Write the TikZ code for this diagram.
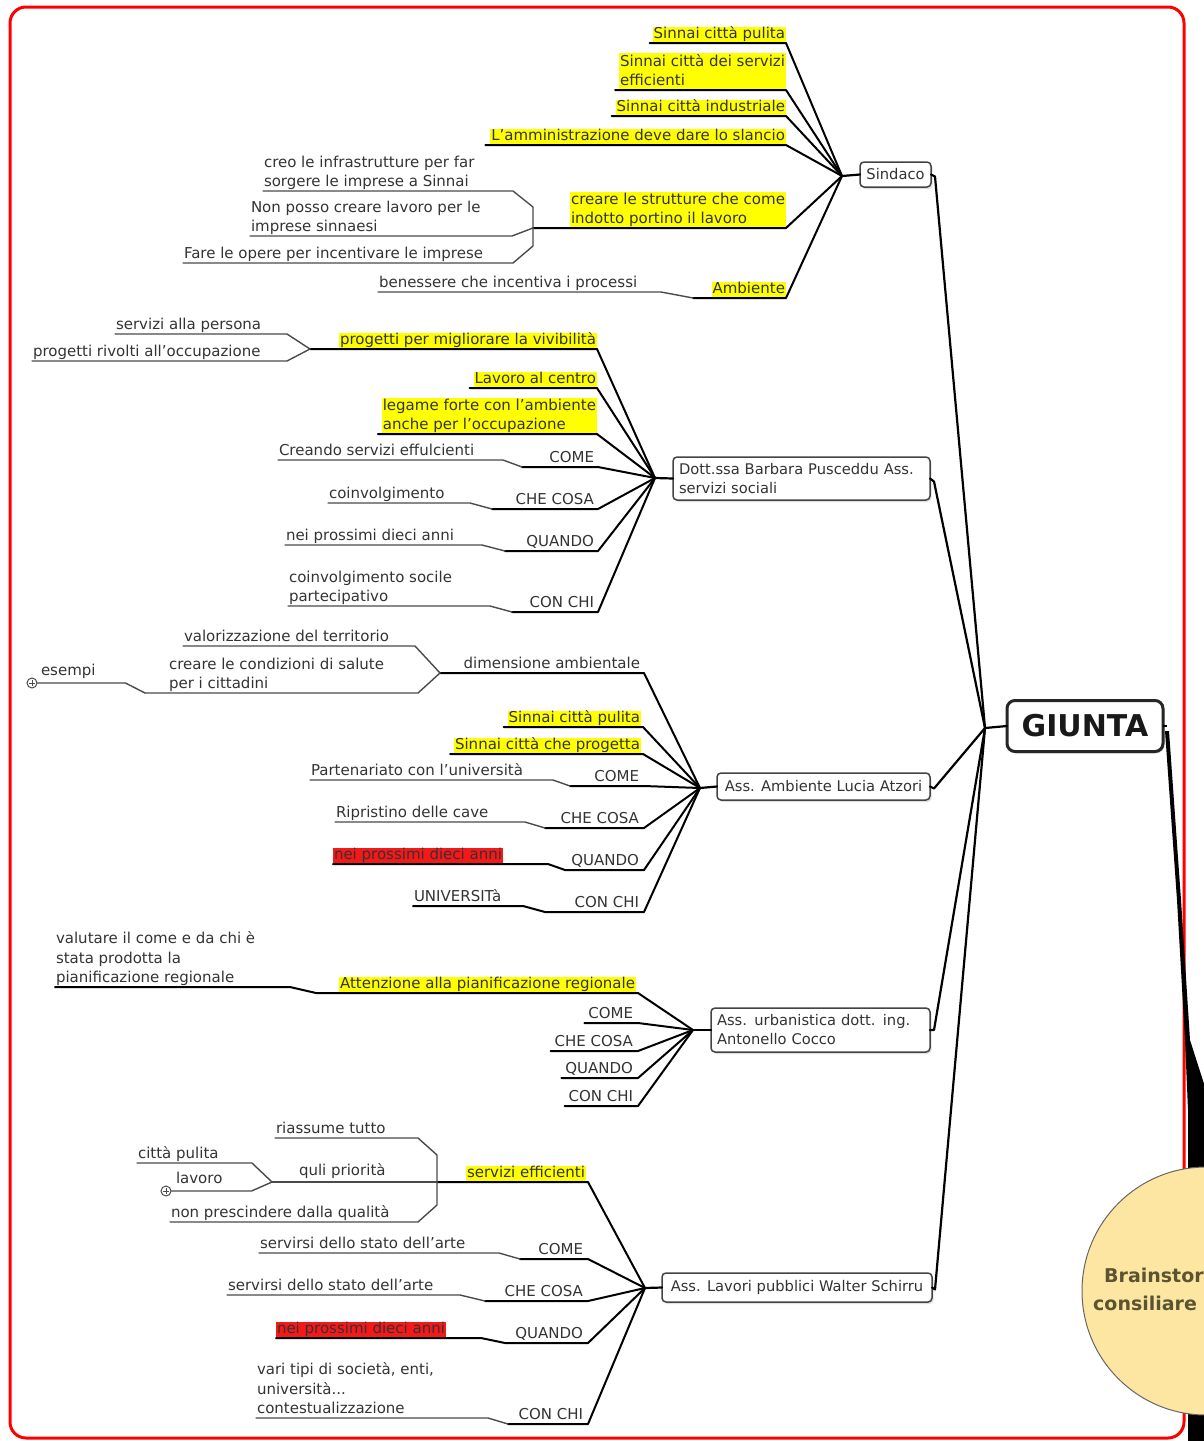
\documentclass[tikz,border=0pt]{standalone}
\usepackage{fontspec}
\setmainfont{DejaVu Sans}
\usetikzlibrary{shadows,calc}
\newcommand\leaffont{\fontsize{15}{19.5}\selectfont}
\newcommand\boxfont{\fontsize{14.7}{19}\selectfont}
\newcommand\giuntafont{\fontsize{30}{34}\selectfont\bfseries}
\newcommand\ballfont{\fontsize{19}{23}\selectfont\bfseries}
\definecolor{hly}{HTML}{FFFF00}
\definecolor{hlr}{HTML}{F41818}
\definecolor{txtc}{HTML}{333333}
\definecolor{lgc}{HTML}{4A4A4A}
\definecolor{boxc}{HTML}{444444}
\definecolor{ballc}{HTML}{FDE6A2}
\definecolor{ballt}{HTML}{5A5430}
\definecolor{frame}{HTML}{FF0000}
\begin{document}
\begin{tikzpicture}[x=1pt,y=-1pt,
  txt/.style={font=\leaffont, text=txtc, inner sep=1pt, outer sep=0pt, text depth=3.5pt},
  one/.style={text height=11pt},
  hl/.style={txt, fill=hly},
  hr/.style={txt, fill=hlr},
  ml/.style={align=left},
  boxn/.style={draw=boxc, line width=1.5pt, rounded corners=4pt, fill=white, font=\boxfont,
    text=txtc, inner xsep=6pt, inner ysep=3pt, outer sep=0pt,
    drop shadow={opacity=0.25, shadow xshift=1.5pt, shadow yshift=-2pt}},
  lk/.style={draw=black, line width=2pt, line join=round, line cap=round},
  lg/.style={draw=lgc, line width=1.4pt, line join=round, line cap=round},
  lm/.style={draw=black, line width=2.2pt, line join=round, line cap=round},
  plusn/.style={circle, draw=lgc, line width=1pt, minimum size=10pt, inner sep=0pt, fill=white,
    path picture={\draw[line width=0.9pt]
      ([yshift=-2.6pt]path picture bounding box.center) -- ([yshift=2.6pt]path picture bounding box.center)
      ([xshift=-2.6pt]path picture bounding box.center) -- ([xshift=2.6pt]path picture bounding box.center);}}
]
\useasboundingbox (0,0) rectangle (1204,1441);
\clip (0,0) rectangle (1204,1441);

% outer frame
\draw[draw=frame, line width=3pt, rounded corners=16pt] (10,7) rectangle (1184,1438);

% heavy tapered link from GIUNTA down to the brainstorming ball
\fill[black] (1165,731) -- (1169,731) -- (1181,900) -- (1190,1040) -- (1206,1090) -- (1215,1090) -- (1215,1441)
  -- (1188,1441) -- (1188,1110) -- (1185,1040) -- (1177,900) -- cycle;
\node[circle, fill=ballc, draw=black!60, line width=1pt, minimum size=248pt, inner sep=0pt] (ball) at (1206,1291) {};
\node[font=\ballfont, text=ballt, anchor=west, inner sep=0pt] (bt1) at (1104,1277) {Brainstorming};
\node[font=\ballfont, text=ballt, anchor=west, inner sep=0pt] (bt2) at (1093,1303) {consiliare};

% central node
\node[boxn, line width=3pt, rounded corners=8pt, draw=black!85, font=\giuntafont, text=black!90,
  minimum width=156pt, minimum height=51pt] (giunta) at (1085,726) {GIUNTA};
\coordinate (hG) at (985,728);
\draw[lm] (hG) -- (giunta.west);
\draw[draw=black, line width=1.5pt] (giunta.east) -- ++(4,0);

% ---------------- Sindaco ----------------
\node[boxn, minimum width=71pt, minimum height=25pt] (sind) at (895.5,174.5) {Sindaco};
\coordinate (hS) at (842,176);
\draw[lm] (hS) -- (sind.west);
\draw[lm] (sind.east) -- ++(4,2) -- (hG);

\node[hl, one, anchor=south east] (s1) at (786,43) {Sinnai città pulita};
\node[hl, ml, anchor=south east] (s2) at (786,90) {Sinnai città dei servizi\\efficienti};
\node[hl, one, anchor=south east] (s3) at (786,116) {Sinnai città industriale};
\node[hl, one, anchor=south east] (s4) at (786,145) {L'amministrazione deve dare lo slancio};
\node[hl, ml, anchor=south east] (s5) at (786,228) {creare le strutture che come\\indotto portino il lavoro};
\node[hl, one, anchor=south east] (s6) at (786,298) {Ambiente};
\coordinate (k5) at (533,228);
\coordinate (k6) at (693,298);
\draw[lk] ([xshift=-3pt]s1.south west) -- (s1.south east) -- (hS);
\draw[lk] ([xshift=-4pt]s2.south west) -- (s2.south east) -- (hS);
\draw[lk] ([xshift=-4pt]s3.south west) -- (s3.south east) -- (hS);
\draw[lk] ([xshift=-5pt]s4.south west) -- (s4.south east) -- (hS);
\draw[lk] (k5) -- (s5.south east) -- (hS);
\draw[lk] (k6) -- (s6.south east) -- (hS);

\node[txt, ml, anchor=south west] (c51) at (263,191) {creo le infrastrutture per far\\sorgere le imprese a Sinnai};
\node[txt, ml, anchor=south west] (c52) at (250,236) {Non posso creare lavoro per le\\imprese sinnaesi};
\node[txt, one, anchor=south west] (c53) at (183,263) {Fare le opere per incentivare le imprese};
\node[txt, one, anchor=south west] (c61) at (378,292) {benessere che incentiva i processi};
\draw[lg] (c51.south west) -- ++(250,0) -- ++(20,16) -- (k5);
\draw[lg] (c52.south west) -- ++(262,0) -- (k5);
\draw[lg] (c53.south west) -- ++(330,0) -- ++(20,-17) -- (k5);
\draw[lg] (c61.south west) -- ++(283,0) -- (k6);

% ---------------- Dott.ssa Barbara Pusceddu ----------------
\node[boxn, text width=245pt, align=left, minimum height=43pt] (dott) at (801.5,478.5)
  {Dott.ssa Barbara Pusceddu Ass.\\servizi sociali};
\coordinate (hD) at (655,478);
\draw[lm] (hD) -- (dott.west);
\draw[lm] (dott.east) -- ++(4,3) -- (hG);

\node[hl, one, anchor=south east] (d1) at (597,349) {progetti per migliorare la vivibilità};
\node[hl, one, anchor=south east] (d2) at (597,388) {Lavoro al centro};
\node[hl, ml, anchor=south east] (d3) at (597,434) {legame forte con l'ambiente\\anche per l'occupazione};
\node[txt, one, anchor=south east] (d4) at (595,467) {COME};
\node[txt, one, anchor=south east] (d5) at (595,509) {CHE COSA};
\node[txt, one, anchor=south east] (d6) at (595,551) {QUANDO};
\node[txt, one, anchor=south east] (d7) at (595,612) {CON CHI};
\coordinate (kd1) at (310,349);
\coordinate (kd4) at (522,467);
\coordinate (kd5) at (492,509);
\coordinate (kd6) at (505,551);
\coordinate (kd7) at (512,612);
\draw[lk] (kd1) -- (d1.south east) -- (hD);
\draw[lk] ([xshift=-4pt]d2.south west) -- (d2.south east) -- (hD);
\draw[lk] ([xshift=-4pt]d3.south west) -- (d3.south east) -- (hD);
\draw[lk] (kd4) -- ([xshift=3pt]d4.south east) -- (hD);
\draw[lk] (kd5) -- ([xshift=3pt]d5.south east) -- (hD);
\draw[lk] (kd6) -- ([xshift=3pt]d6.south east) -- (hD);
\draw[lk] (kd7) -- ([xshift=3pt]d7.south east) -- (hD);

\node[txt, one, anchor=south west] (d11) at (115,334) {servizi alla persona};
\node[txt, one, anchor=south west] (d12) at (32,361) {progetti rivolti all'occupazione};
\node[txt, one, anchor=south west] (d41) at (278,460) {Creando servizi effulcienti};
\node[txt, one, anchor=south west] (d51) at (328,503) {coinvolgimento};
\node[txt, one, anchor=south west] (d61) at (285,545) {nei prossimi dieci anni};
\node[txt, ml, anchor=south west] (d71) at (288,606) {coinvolgimento socile\\partecipativo};
\draw[lg] (d11.south west) -- ++(172,0) -- (kd1);
\draw[lg] (d12.south west) -- ++(255,0) -- (kd1);
\draw[lg] (d41.south west) -- ++(225,0) -- (kd4);
\draw[lg] (d51.south west) -- ++(142,0) -- (kd5);
\draw[lg] (d61.south west) -- ++(197,0) -- (kd6);
\draw[lg] (d71.south west) -- ++(202,0) -- (kd7);

% ---------------- Ass. Ambiente ----------------
\node[boxn, minimum width=213pt, minimum height=27pt] (amb) at (823.5,786.5) {Ass. Ambiente Lucia Atzori};
\coordinate (hA) at (700,788);
\draw[lm] (hA) -- (amb.west);
\draw[lm] (amb.east) -- ++(4,2) -- (hG);

\node[txt, one, anchor=south east] (a1) at (641,673) {dimensione ambientale};
\node[hl, one, anchor=south east] (a2) at (641,727) {Sinnai città pulita};
\node[hl, one, anchor=south east] (a3) at (641,754) {Sinnai città che progetta};
\node[txt, one, anchor=south east] (a4) at (640,786) {COME};
\node[txt, one, anchor=south east] (a5) at (640,828) {CHE COSA};
\node[txt, one, anchor=south east] (a6) at (640,870) {QUANDO};
\node[txt, one, anchor=south east] (a7) at (640,912) {CON CHI};
\coordinate (kA1) at (440,673);
\coordinate (kA4) at (570,786);
\coordinate (kA5) at (545,828);
\coordinate (kA6) at (565,870);
\coordinate (kA7) at (545,912);
\draw[lk] (kA1) -- ([xshift=3pt]a1.south east) -- (hA);
\draw[lk] ([xshift=-4pt]a2.south west) -- ([xshift=2pt]a2.south east) -- (hA);
\draw[lk] ([xshift=-4pt]a3.south west) -- ([xshift=2pt]a3.south east) -- (hA);
\draw[lk] (kA4) -- ([xshift=4pt]a4.south east) -- (hA);
\draw[lk] (kA5) -- ([xshift=4pt]a5.south east) -- (hA);
\draw[lk] (kA6) -- ([xshift=4pt]a6.south east) -- (hA);
\draw[lk] (kA7) -- ([xshift=4pt]a7.south east) -- (hA);

\node[txt, one, anchor=south west] (a11) at (183,646) {valorizzazione del territorio};
\node[txt, ml, anchor=south west] (a12) at (168,693) {creare le condizioni di salute\\per i cittadini};
\coordinate (kA12) at (145,693);
\node[plusn] (p1) at (32,683) {};
\node[txt, one, anchor=south west] (a121) at (40,680) {esempi};
\node[txt, one, anchor=south west] (a41) at (310,780) {Partenariato con l'università};
\node[txt, one, anchor=south west] (a51) at (335,822) {Ripristino delle cave};
\node[hr, one, anchor=south west] (a61) at (333,864) {nei prossimi dieci anni};
\node[txt, one, anchor=south west] (a71) at (413,906) {UNIVERSITà};
\draw[lg] (a11.south west) -- ++(232,0) -- (kA1);
\draw[lg] (kA12) -- (a12.south west) -- ++(250,0) -- (kA1);
\draw[lg] (p1.east) -- ++(88,0) -- (kA12);
\draw[lg] (a41.south west) -- ++(243,0) -- (kA4);
\draw[lg] (a51.south west) -- ++(190,0) -- (kA5);
\draw[lk] (a61.south west) -- ++(215,0) -- (kA6);
\draw[lk] (a71.south west) -- ++(110,0) -- (kA7);

% ---------------- Ass. urbanistica ----------------
\node[boxn, text width=207pt, align=left, minimum height=44pt] (urb) at (820.5,1030)
  {Ass. urbanistica dott. ing.\\Antonello Cocco};
\coordinate (hU) at (693,1030);
\draw[lm] (hU) -- (urb.west);
\draw[lm] (urb.east) -- ++(4,0) -- (hG);

\node[hl, one, anchor=south east] (u1) at (636,993) {Attenzione alla pianificazione regionale};
\node[txt, one, anchor=south east] (u2) at (634,1023) {COME};
\node[txt, one, anchor=south east] (u3) at (634,1051) {CHE COSA};
\node[txt, one, anchor=south east] (u4) at (634,1078) {QUANDO};
\node[txt, one, anchor=south east] (u5) at (634,1106) {CON CHI};
\coordinate (kU1) at (316,993);
\draw[lk] (kU1) -- ([xshift=2pt]u1.south east) -- (hU);
\draw[lk] ([xshift=-3pt]u2.south west) -- ([xshift=4pt]u2.south east) -- (hU);
\draw[lk] ([xshift=-3pt]u3.south west) -- ([xshift=4pt]u3.south east) -- (hU);
\draw[lk] ([xshift=-3pt]u4.south west) -- ([xshift=4pt]u4.south east) -- (hU);
\draw[lk] ([xshift=-3pt]u5.south west) -- ([xshift=4pt]u5.south east) -- (hU);

\node[txt, ml, anchor=south west] (u11) at (55,987) {valutare il come e da chi è\\stata prodotta la\\pianificazione regionale};
\draw[lk] (u11.south west) -- ++(235,0) -- (kU1);

% ---------------- Ass. Lavori pubblici ----------------
\node[boxn, minimum width=270pt, minimum height=29pt] (lav) at (797,1287.5) {Ass. Lavori pubblici Walter Schirru};
\coordinate (hL) at (645,1288);
\draw[lm] (hL) -- (lav.west);
\draw[lm] (lav.east) -- ++(3,2) -- (hG);

\node[hl, one, anchor=south east] (l1) at (586,1182) {servizi efficienti};
\node[txt, one, anchor=south east] (l2) at (584,1259) {COME};
\node[txt, one, anchor=south east] (l3) at (584,1301) {CHE COSA};
\node[txt, one, anchor=south east] (l4) at (584,1343) {QUANDO};
\node[txt, one, anchor=south east] (l5) at (584,1424) {CON CHI};
\coordinate (kL1) at (437,1182);
\coordinate (kL2) at (520,1259);
\coordinate (kL3) at (485,1301);
\coordinate (kL4) at (505,1343);
\coordinate (kL5) at (508,1424);
\draw[lk] (kL1) -- ([xshift=2pt]l1.south east) -- (hL);
\draw[lk] (kL2) -- ([xshift=4pt]l2.south east) -- (hL);
\draw[lk] (kL3) -- ([xshift=4pt]l3.south east) -- (hL);
\draw[lk] (kL4) -- ([xshift=4pt]l4.south east) -- (hL);
\draw[lk] (kL5) -- ([xshift=4pt]l5.south east) -- (hL);

\node[txt, one, anchor=south west] (l11) at (275,1138) {riassume tutto};
\node[txt, one, anchor=south west] (l12) at (298,1180) {quli priorità};
\coordinate (kL12) at (272,1182);
\node[txt, one, anchor=south west] (l121) at (137,1163) {città pulita};
\node[plusn] (p2) at (166,1191) {};
\node[txt, one, anchor=south west] (l122) at (175,1188) {lavoro};
\node[txt, one, anchor=south west] (l13) at (170,1222) {non prescindere dalla qualità};
\draw[lg] (l11.south west) -- ++(143,0) -- ++(19,17) -- (kL1);
\draw[lg] (kL12) -- (kL1);
\draw[lg] (l121.south west) -- ++(115,0) -- (kL12);
\draw[lg] (p2.east) -- ++(80,0) -- (kL12);
\draw[lg] (l13.south west) -- ++(248,0) -- ++(19,-17) -- (kL1);

\node[txt, one, anchor=south west] (l21) at (259,1253) {servirsi dello stato dell'arte};
\node[txt, one, anchor=south west] (l31) at (227,1295) {servirsi dello stato dell'arte};
\node[hr, one, anchor=south west] (l41) at (276,1338) {nei prossimi dieci anni};
\node[txt, ml, anchor=south west] (l51) at (256,1418) {vari tipi di società, enti,\\università...\\contestualizzazione};
\draw[lg] (l21.south west) -- ++(240,0) -- (kL2);
\draw[lg] (l31.south west) -- ++(233,0) -- (kL3);
\draw[lk] (l41.south west) -- ++(205,0) -- (kL4);
\draw[lg] (l51.south west) -- ++(232,0) -- (kL5);
\end{tikzpicture}
\end{document}
